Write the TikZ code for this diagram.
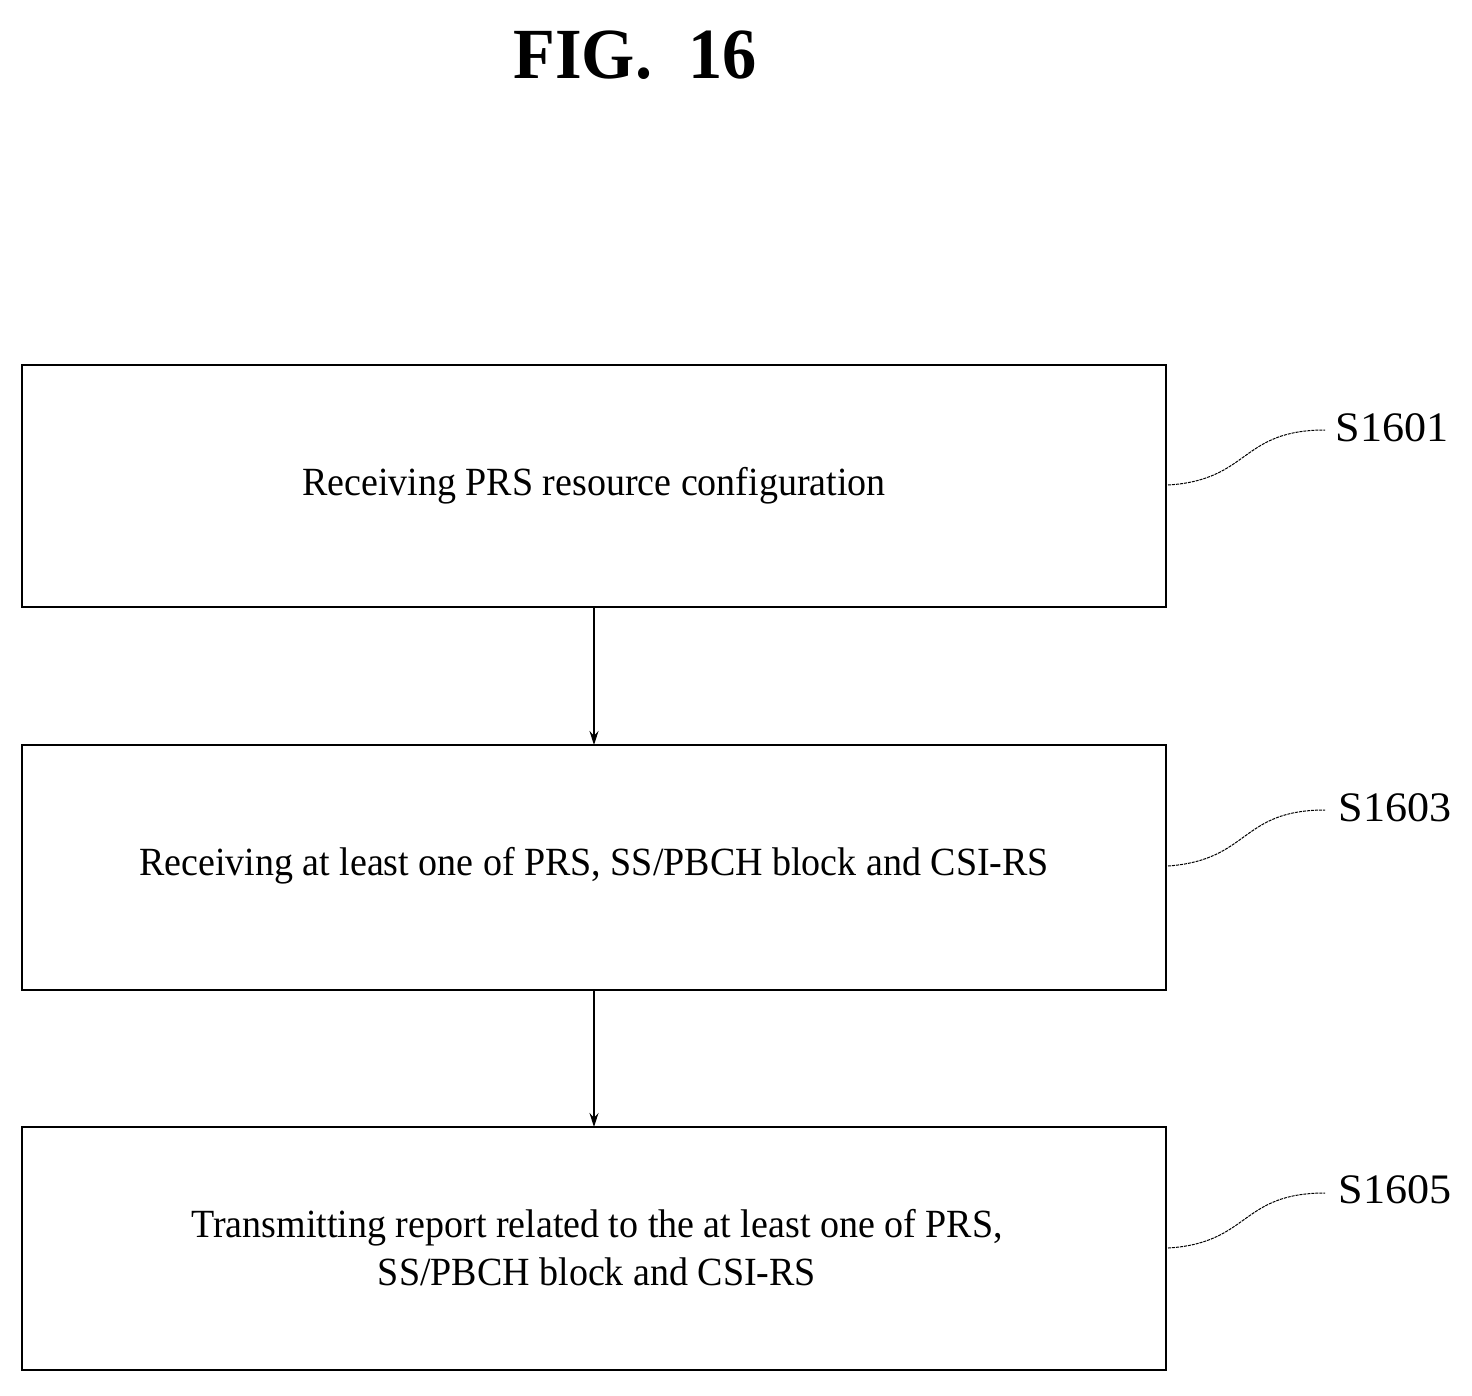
\documentclass[tikz,border=0pt]{standalone}
\usepackage{fontspec}
\usetikzlibrary{arrows.meta}
\setmainfont[FakeStretch=0.95]{Liberation Serif}
\newfontfamily\labfont[FakeStretch=1.05]{Liberation Serif}
\begin{document}
\begin{tikzpicture}[x=1pt,y=-1pt,
 box/.style={draw,line width=2.6pt,inner sep=0},
 txt/.style={font=\fontsize{40}{48}\selectfont,align=center},
 lab/.style={font=\labfont\fontsize{42}{46}\selectfont},
 arr/.style={-{Stealth[length=14pt,width=9pt]},line width=1.2pt},
 lead/.style={line width=1pt,dash pattern=on 3pt off 1pt}]
\useasboundingbox (0,0) rectangle (1472,1395);
\node[font=\fontsize{72}{78}\selectfont\bfseries] (title) at (635,55) {FIG.\enspace 16};
\draw[box] (22,365) rectangle (1166,607);
\draw[box] (22,745) rectangle (1166,990);
\draw[box] (22,1127) rectangle (1166,1370);
\coordinate (b1) at (594,607); \coordinate (t2) at (594,745);
\coordinate (b2) at (594,990); \coordinate (t3) at (594,1127);
\node[txt] (n1) at (594,486) {Receiving PRS resource configuration};
\node[txt] (n2) at (594,866) {Receiving at least one of PRS, SS/PBCH block and CSI-RS};
\node[txt] (n3) at (597,1248) {Transmitting report related to the at least one of PRS,\\SS/PBCH block and CSI-RS};
\draw[arr] (b1) -- (t2);
\draw[arr] (b2) -- (t3);
\node[lab] (s1) at (1392,428) {S1601};
\node[lab] (s2) at (1395,808) {S1603};
\node[lab] (s3) at (1395,1190) {S1605};
\coordinate (r1) at (1168,485); \coordinate (r2) at (1168,866); \coordinate (r3) at (1168,1248);
\draw[lead] (r1) .. controls (1250,480) and (1240,430) .. (1325,430);
\draw[lead] (r2) .. controls (1250,860) and (1240,810) .. (1325,810);
\draw[lead] (r3) .. controls (1250,1243) and (1240,1193) .. (1325,1193);
\end{tikzpicture}
\end{document}
